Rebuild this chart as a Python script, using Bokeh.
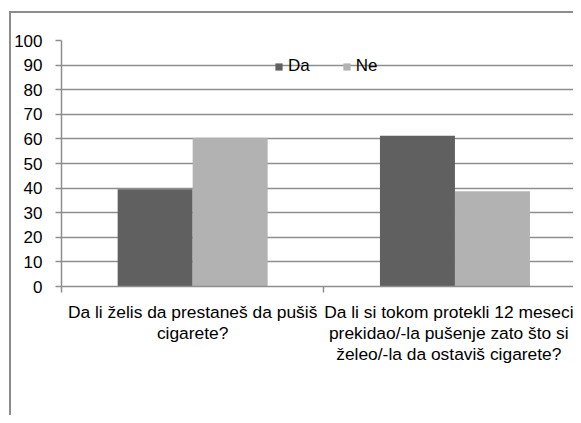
import numpy as np
from bokeh.plotting import figure
from bokeh.models import Range1d, FixedTicker, ColumnDataSource, Legend, LegendItem
from bokeh.transform import dodge
from bokeh.embed import file_html
from bokeh.resources import INLINE

# ---- data ----
categories = [
    "Da li želis da prestaneš da pušiš\ncigarete?",
    "Da li si tokom protekli 12 meseci\nprekidao/-la pušenje zato što si\nželeo/-la da ostaviš cigarete?",
]
series_names = ["Da", "Ne"]
da_values = [39.5, 61.3]
ne_values = [60.5, 38.7]
y_ticks = [0, 10, 20, 30, 40, 50, 60, 70, 80, 90, 100]

# ---- style ----
DA_COLOR = "#606060"
NE_COLOR = "#b2b2b2"
GRID = "#8e8e8e"
BORDER = "#8c8c8c"
FONT = "Liberation Sans"
FS = "17px"
FS_CAT = "17.4px"

centers = [i + 0.5 for i in range(len(categories))]
bounds = [i for i in range(len(categories) + 1)]
src = ColumnDataSource(dict(x=centers, da=da_values, ne=ne_values))

CAT_PX = 262.3
FRAME_W = 512
BAR_W = 75 / CAT_PX

p = figure(
    width=573, height=415,
    frame_width=FRAME_W, frame_height=246,
    x_range=Range1d(0, FRAME_W / CAT_PX),
    y_range=Range1d(0, 100),
    output_backend="svg", toolbar_location=None,
    min_border_left=61, min_border_right=0, min_border_top=40, min_border_bottom=129,
)
# outer chart border: left and top edges of the chart area
p.styles = {
    "background-image": f"linear-gradient({BORDER},{BORDER}), linear-gradient({BORDER},{BORDER})",
    "background-size": "2px 100%, 100% 2px",
    "background-position": "9px 11px, 9px 11px",
    "background-repeat": "no-repeat",
}
p.outline_line_color = None
p.background_fill_color = "white"
p.border_fill_alpha = 0

r_da = p.vbar(x=dodge("x", -BAR_W / 2), top="da", width=BAR_W, source=src,
              fill_color=DA_COLOR, line_color=None)
r_ne = p.vbar(x=dodge("x", BAR_W / 2), top="ne", width=BAR_W, source=src,
              fill_color=NE_COLOR, line_color=None)

# y axis
p.yaxis.ticker = FixedTicker(ticks=y_ticks)
p.yaxis.axis_line_color = GRID
p.yaxis.axis_line_width = 1.5
p.yaxis.major_tick_line_color = GRID
p.yaxis.major_tick_line_width = 1.5
p.yaxis.major_tick_out = 6
p.yaxis.major_tick_in = 0
p.yaxis.minor_tick_line_color = None
p.yaxis.major_label_text_font = FONT
p.yaxis.major_label_text_font_size = FS
p.yaxis.major_label_text_color = "black"
p.yaxis.major_label_standoff = 13

# x axis
p.xaxis.ticker = FixedTicker(ticks=centers, minor_ticks=bounds)
p.xaxis.major_label_overrides = {c: lab for c, lab in zip(centers, categories)}
p.xaxis.axis_line_color = GRID
p.xaxis.axis_line_width = 1.5
p.xaxis.major_tick_line_color = None
p.xaxis.minor_tick_line_color = GRID
p.xaxis.minor_tick_line_width = 1.5
p.xaxis.minor_tick_out = 6
p.xaxis.minor_tick_in = 0
p.xaxis.major_label_text_font = FONT
p.xaxis.major_label_text_font_size = FS_CAT
p.xaxis.major_label_text_color = "black"
p.xaxis.major_label_text_line_height = 1.05
p.xaxis.major_label_standoff = 9

p.xgrid.grid_line_color = None
p.ygrid.grid_line_color = GRID
p.ygrid.grid_line_width = 1.5

legend = Legend(
    items=[LegendItem(label=series_names[0], renderers=[r_da]),
           LegendItem(label=series_names[1], renderers=[r_ne])],
    orientation="horizontal",
    location=(213, 210),
    glyph_width=9, glyph_height=9,
    label_standoff=5, spacing=32, padding=0, margin=0,
    label_text_font=FONT, label_text_font_size=FS, label_text_color="black",
    background_fill_alpha=0, border_line_color=None,
)
p.add_layout(legend, "center")

open("out.html", "w").write(file_html(p, INLINE))
